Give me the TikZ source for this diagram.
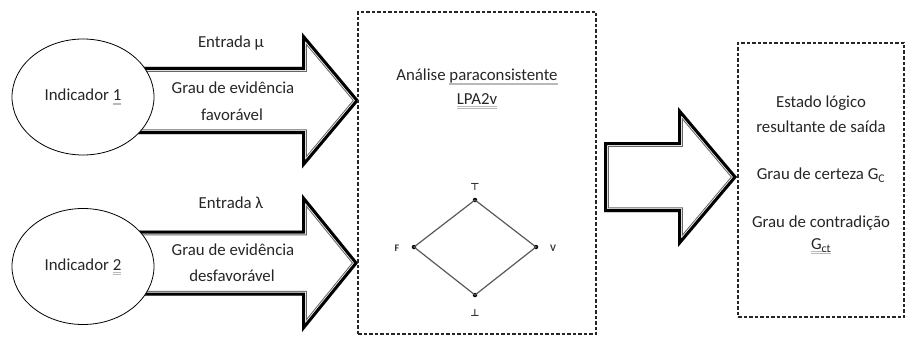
\documentclass[tikz,border=0pt]{standalone}
\usepackage{fontspec}
\setmainfont{Carlito}
\newfontfamily\symfont{DejaVu Sans}
\usetikzlibrary{shapes.geometric}

\newcommand\spellmark[1]{\setbox0\hbox{#1}\rlap{\textcolor{gray!55}{\rule[-2.4pt]{\wd0}{0.6pt}}}\rlap{\textcolor{gray!55}{\rule[-3.9pt]{\wd0}{0.6pt}}}\box0}

% #1 x start, #2 x head base, #3 x tip, #4 y centre, #5 shaft half height, #6 head half height
\newcommand\fatarrow[6]{%
  \begin{scope}
    \clip (#1,#4-#5) -- (#2,#4-#5) -- (#2,#4-#6) -- (#3,#4) -- (#2,#4+#6) -- (#2,#4+#5) -- (#1,#4+#5) -- cycle;
    \fill[white] (#1,#4-#5) -- (#2,#4-#5) -- (#2,#4-#6) -- (#3,#4) -- (#2,#4+#6) -- (#2,#4+#5) -- (#1,#4+#5) -- cycle;
    \draw[gray!80!black, line width=9.5pt, line join=miter] (#1,#4-#5) -- (#2,#4-#5) -- (#2,#4-#6) -- (#3,#4) -- (#2,#4+#6) -- (#2,#4+#5) -- (#1,#4+#5) -- cycle;
    \draw[white, line width=7.5pt, line join=miter] (#1,#4-#5) -- (#2,#4-#5) -- (#2,#4-#6) -- (#3,#4) -- (#2,#4+#6) -- (#2,#4+#5) -- (#1,#4+#5) -- cycle;
    \draw[black, line width=6pt, line join=miter] (#1,#4-#5) -- (#2,#4-#5) -- (#2,#4-#6) -- (#3,#4) -- (#2,#4+#6) -- (#2,#4+#5) -- (#1,#4+#5) -- cycle;
  \end{scope}}

\tikzset{
  txt/.style={inner sep=0pt, font=\fontsize{16.8}{20}\selectfont, text=black!85},
  indic/.style={draw, ellipse, fill=white, line width=0.8pt, minimum width=142pt, minimum height=116pt, inner sep=0pt, font=\fontsize{16.8}{20}\selectfont, text=black!85},
  dbox/.style={draw=black!85, line width=1.4pt, dash pattern=on 3.5pt off 2pt, minimum width=#1, inner sep=0pt},
  vtx/.style={circle, fill=black, inner sep=0pt, minimum size=4.5pt},
  vlab/.style={inner sep=0pt, font=\fontsize{10}{11}\selectfont\bfseries, text=black!80},
  slab/.style={inner sep=0pt, font=\symfont\fontsize{10}{11}\selectfont\bfseries, text=black!80},
}

\begin{document}
\begin{tikzpicture}[x=1pt, y=-1pt]
\useasboundingbox (0,0) rectangle (907,337);

% big arrows
\fatarrow{130}{302}{359}{100.5}{33.5}{68}
\fatarrow{130}{302}{358}{263}{32.5}{69}
\fatarrow{604}{678}{737}{177}{35}{70}

% indicators
\node[indic] (ind1) at (83,97) {Indicador \spellmark{1}};
\node[indic] (ind2) at (83,266.5) {Indicador \spellmark{2}};

% arrow labels
\node[txt] (e1) at (231,43) {Entrada μ};
\node[txt] (g1) at (233,88) {Grau de evidência};
\node[txt] (f1) at (232,115) {favorável};
\node[txt] (e2) at (231,203) {Entrada λ};
\node[txt] (g2) at (233,250) {Grau de evidência};
\node[txt] (f2) at (232,276) {desfavorável};

% central box
\node[dbox=238pt, minimum height=322pt] (lpa) at (477,173) {};
\node[txt] (an) at (477,77) {Análise \spellmark{paraconsistente}};
\node[txt] (lp) at (477,101) {\spellmark{LPA2v}};

% lattice
\node[vtx] (top) at (475,200) {};
\node[vtx] (lf) at (414,247) {};
\node[vtx] (rv) at (536,247) {};
\node[vtx] (bot) at (475,295) {};
\draw[black!65, line width=1.2pt] (top.center) -- (rv.center) -- (bot.center) -- (lf.center) -- cycle;
\node[slab] (tl) at (475,187) {⊤};
\node[vlab] (fl) at (397,248) {F};
\node[vlab] (vl) at (553,248) {V};
\node[slab] (bl) at (475,313) {⊥};

% output box
\node[dbox=166pt, minimum height=274pt] (out) at (821,180) {};
\node[txt] (s1) at (821,103) {Estado lógico};
\node[txt] (s2) at (821,127) {resultante de saída};
\node[txt] (s3) at (821,175) {Grau de certeza G\textsubscript{C}};
\node[txt] (s4) at (821,223) {Grau de contradição};
\node[txt] (s5) at (821,246) {\spellmark{G\textsubscript{ct}}};
\end{tikzpicture}
\end{document}
